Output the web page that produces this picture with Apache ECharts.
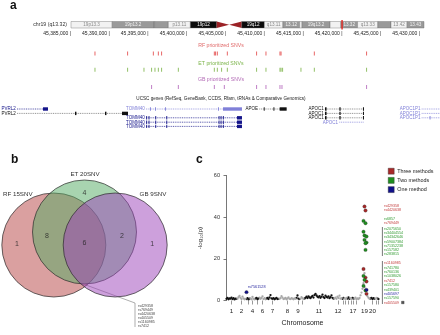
<!DOCTYPE html>
<html>
<head>
<meta charset="utf-8">
<script src="https://cdn.jsdelivr.net/npm/echarts@6/dist/echarts.min.js"></script>
<style>
html, body { margin: 0; padding: 0; background: #fff; }
#chart { width: 440px; height: 335px; }
</style>
</head>
<body>
<div id="chart"></div>
<script>
const FONT = '"Liberation Sans", Arial, sans-serif'

// ---------- panel a : chr19 ideogram (hg19 bands, Mb) ----------
const bandStart = [0, 6.9, 13.9, 14.0, 16.3, 20.0, 24.4, 26.5, 28.6, 32.4, 35.5, 38.3, 38.7, 43.4, 45.2, 48.0, 51.4, 53.6, 56.3]
const bandEnd = [6.9, 13.9, 14.0, 16.3, 20.0, 24.4, 26.5, 28.6, 32.4, 35.5, 38.3, 38.7, 43.4, 45.2, 48.0, 51.4, 53.6, 56.3, 59.13]
const bandStain = ['gneg', 'gpos25', 'gneg', 'gpos25', 'gneg', 'gvar', 'acenL', 'acenR', 'gvar', 'gneg', 'gpos25', 'gneg', 'gpos25', 'gneg', 'gpos25', 'gneg', 'gpos25', 'gneg', 'gpos25']
const bandLabel = ['19p13.3', '19p13.2', '', '', 'p13.11', '19p12', '', '', '19q12', 'q13.11', '13.12', '', '19q13.2', '', '13.32', 'q13.33', '', '13.42', '13.43']
const viewMb = [45.404]

// genome browser window and coordinate ticks
const viewStart = 45375850
const viewEnd = 45432570
const coordTicks = [45385000, 45390000, 45395000, 45400000, 45405000, 45410000, 45415000, 45420000, 45425000, 45430000]

// prioritized SNV positions (bp)
const rfSnv = [45388094, 45392309, 45395609, 45396253, 45396691, 45403471, 45403650, 45403858, 45405147, 45408937, 45410136, 45411941, 45412079, 45416361, 45423116]
const etSnv = [45388094, 45392309, 45394410, 45395402, 45395828, 45396253, 45396691, 45398831, 45403471, 45403858, 45404425, 45405147, 45408937, 45410136, 45411941, 45412079, 45412289, 45414647, 45416361, 45423116]
const gbSnv = [45395402, 45398831, 45403471, 45404760, 45408937, 45410136, 45411941, 45412200, 45423116]

// UCSC gene models
const geneName = ['PVRL2', 'PVRL2', 'TOMM40', 'TOMM40', 'TOMM40', 'TOMM40', 'APOE', 'APOC1', 'APOC1', 'APOC1', 'APOC1', 'APOC1P1', 'APOC1P1', 'APOC1P1']
const geneStart = [45378040, 45378040, 45394668, 45394668, 45394668, 45394668, 45409270, 45417741, 45417741, 45417741, 45419584, 45430205, 45430205, 45430205]
const geneEnd = [45382035, 45392347, 45407042, 45407042, 45407042, 45407042, 45412800, 45422768, 45422768, 45422768, 45422768, 45432570, 45432570, 45432570]
const geneRow = [0, 1, 0, 2, 3, 4, 0, 0, 1, 2, 3, 0, 1, 2]
const geneTone = ['dark', 'black', 'light', 'dark', 'dark', 'dark', 'black', 'black', 'black', 'black', 'light', 'light', 'light', 'light']
const tomExons = [[45394700, 45394800], [45395000, 45395100], [45395870, 45395970], [45397290, 45397390], [45404030, 45404130], [45404290, 45404390], [45404580, 45404680], [45406400, 45407042]]
const apocExons = [[45417741, 45417950], [45419600, 45419760], [45422640, 45422768]]
const geneExons = [
    [[45381390, 45382035]],
    [[45385516, 45385700], [45389383, 45389570], [45391574, 45392347]],
    [[45395180, 45395280], [45395830, 45395930], [45397120, 45397220], [45403950, 45404050], [45404593, 45407042]],
    tomExons, tomExons, tomExons,
    [[45409850, 45409950], [45411100, 45411220], [45411900, 45412800]],
    apocExons, apocExons, apocExons,
    [],
    [], [], [[45431230, 45431330]]
]

// ---------- panel b : Venn ----------
const vennName = ['RF 15SNV', 'ET 20SNV', 'GB 9SNV']
const vennX = [-0.59, 0, 0.59]
const vennY = [0, 0.25, 0]
const regionCount = [1, 8, 4, 6, 2, 1]
const regionX = [-1.3, -0.72, 0, 0, 0.72, 1.3]
const regionY = [0.02, 0.17, 1.0, 0.04, 0.17, 0.02]
const sharedSnv = ['rs429358', 'rs769449', 'rs4420638', 'rs405509', 'rs1160985', 'rs7412']

// ---------- panel c : Manhattan ----------
const chromName = ['1', '2', '3', '4', '5', '6', '7', '8', '9', '10', '11', '12', '13', '14', '15', '16', '17', '18', '19', '20', '21', '22']
const chromShown = ['1', '2', '4', '6', '7', '8', '9', '11', '12', '17', '19', '20']
const chromShade = [0, 1, 0, 1, 0, 1, 0, 1, 0, 1, 0, 1, 0, 1, 0, 1, 0, 1, 1, 0, 1, 0]
const chromP = [
    [0.8, 1.2, 0.6, 1.0, 0.9, 1.4, 0.7, 1.1, 0.5, 0.9, 0.8],
    [0.9, 1.6, 2.2, 1.3, 0.7, 1.9, 1.0, 0.6, 0.8],
    [0.7, 1.1, 0.5, 0.9],
    [1.0, 0.6, 1.7, 0.8, 0.5],
    [0.9, 1.3, 0.6, 1.0],
    [1.4, 0.8, 1.2, 2.0, 0.7, 1.1, 0.6],
    [0.9, 1.2, 0.7, 1.5, 2.6, 1.0, 0.8, 1.1, 0.6, 0.9, 1.3, 0.7, 0.8],
    [0.8, 1.1, 2.1, 1.4, 0.7, 0.9, 1.2, 0.6, 1.0, 1.5, 0.8, 0.7, 1.1, 0.9, 0.6, 1.0, 0.8],
    [1.2, 2.4, 0.9, 0.7],
    [0.8, 1.6, 1.1, 0.7],
    [0.9, 1.3, 1.8, 1.2, 2.0, 1.5, 1.1, 1.7, 2.2, 1.4, 2.6, 3.2, 2.4, 1.8, 1.5, 2.1, 1.3, 1.9, 2.8, 1.6, 1.2, 2.3, 1.7, 1.4, 2.0, 1.1, 1.6, 2.5, 1.3, 0.9],
    [1.0, 1.4, 0.8, 1.8, 1.2, 2.3, 0.9, 1.1],
    [0.8, 1.2],
    [1.0, 0.7, 1.3],
    [0.9, 1.5, 0.8],
    [1.1, 0.7],
    [1.2, 0.9],
    [0.8, 1.4, 0.6, 1.0, 0.7],
    [1.2, 2.5, 3.8, 5.6, 7.2, 6.4, 4.8, 3.1, 2.0, 1.3, 0.8],
    [0.9, 1.3, 0.7, 1.1, 0.8],
    [0.8, 1.2],
    [1.0, 0.7]
]
const extraGrey = [[138, 13.1], [137, 8.3]]
// prioritized SNVs: SNP index, -log10(p), number of methods
const hitIdx = [138, 139, 137, 139, 137, 138, 140, 138, 140, 139, 139, 137, 137, 139, 138, 140, 137, 140, 139, 140, 20]
const hitP = [45.1, 43.2, 38.2, 37.1, 33.0, 31.2, 30.7, 29.1, 27.8, 27.5, 24.3, 15.1, 11.8, 11.0, 9.9, 9.1, 7.0, 5.1, 4.8, 3.2, 4.0]
const hitGroup = [3, 3, 2, 2, 2, 2, 2, 2, 2, 2, 2, 3, 2, 3, 2, 3, 2, 1, 2, 3, 1]
const groupName = {3: 'Three methods', 2: 'Two methods', 1: 'One method'}
const groupColor = {3: '#a82828', 2: '#1f8f1f', 1: '#10108a'}
const labelColor = {3: '#c23b3b', 2: '#2f9a2f', 1: '#2a2aa0'}

// right-hand SNP name column: [name, methods, block]
const snpLabel = ['rs429358', 'rs4420638', 'rs6857', 'rs769449',
    'rs2075650', 'rs34404554', 'rs34342646', 'rs59007384', 'rs71352238', 'rs157582', 'rs283815',
    'rs1160985', 'rs741780', 'rs760136', 'rs1038026', 'rs7412', 'rs157580', 'rs439401', 'rs405697', 'rs157590', 'rs405509']
const snpLabelGroup = [3, 3, 2, 3, 2, 2, 2, 2, 2, 2, 2, 3, 2, 2, 2, 3, 2, 2, 1, 2, 3]
const snpLabelBlock = [0, 0, 1, 1, 2, 2, 2, 2, 2, 2, 2, 3, 3, 3, 3, 3, 3, 3, 3, 3, 3]

// ---------- build ----------
const fmtBp = v => String(v).replace(/\B(?=(\d{3})+(?!\d))/g, ',')

const stainFill = {gneg: '#f2f2f2', gpos25: '#9a9a9a', gvar: '#0b0b0b'}
const stainText = {gneg: '#8a8a8a', gpos25: '#f2f2f2', gvar: '#f2f2f2'}
function renderBand(params, api) {
    const i = api.value(2)
    const a = api.coord([api.value(0), 1])
    const b = api.coord([api.value(1), 0])
    const st = bandStain[i]
    if (st === 'acenL' || st === 'acenR') {
        const base = st === 'acenL' ? a[0] : b[0]
        const tip = st === 'acenL' ? b[0] : a[0]
        return {type: 'polygon', shape: {points: [[base, a[1]], [base, b[1]], [tip, (a[1] + b[1]) / 2]]}, style: {fill: '#9b2226'}}
    }
    return {
        type: 'group', children: [
            {type: 'rect', shape: {x: a[0], y: a[1], width: b[0] - a[0], height: b[1] - a[1]}, style: {fill: stainFill[st], stroke: '#6a6a6a', lineWidth: 0.4}},
            {type: 'text', style: {text: bandLabel[i], x: (a[0] + b[0]) / 2, y: (a[1] + b[1]) / 2 + 0.3, align: 'center', verticalAlign: 'middle', fontSize: 4.6, fontFamily: FONT, fill: stainText[st]}}
        ]
    }
}

const geneRowY = [69, 73.4, 77.8, 82.2, 86.4]
const toneColor = {dark: '#14148a', light: '#8080d8', black: '#111111'}
function renderGene(params, api) {
    const i = api.value(2)
    const ry = geneRowY[geneRow[i]]
    const s = api.coord([geneStart[i], ry])
    const e = api.coord([geneEnd[i], ry])
    const col = toneColor[geneTone[i]]
    const children = [{
        type: 'line', shape: {x1: s[0], y1: s[1], x2: e[0], y2: e[1]},
        style: {stroke: geneTone[i] === 'black' ? '#666' : col, lineWidth: 0.7, lineDash: [1, 0.8]}
    }]
    geneExons[i].forEach(ex => {
        const x0 = api.coord([ex[0], ry])[0]
        const x1 = api.coord([ex[1], ry])[0]
        children.push({type: 'rect', shape: {x: x0, y: s[1] - 1.7, width: Math.max(x1 - x0, 0.9), height: 3.4}, style: {fill: col}})
    })
    children.push({type: 'text', style: {text: geneName[i], x: s[0] - 1.2, y: s[1] + 0.2, align: 'right', verticalAlign: 'middle', fontSize: 4.5, fontFamily: FONT, fill: col}})
    return {type: 'group', children}
}

const bgDark = [], bgLight = [], chromCenter = []
let idx = 0
chromP.forEach((vals, c) => {
    chromCenter.push(idx + (vals.length - 1) / 2)
    vals.forEach(p => {
        (chromShade[c] ? bgLight : bgDark).push([idx, p])
        idx++
    })
})
const nSnp = idx
const shownCenter = chromCenter.filter((v, c) => chromShown.includes(chromName[c]))
const chromOf = v => chromName[chromCenter.findIndex(cv => Math.abs(cv - v) < 0.01)]

const hitSeries = [3, 2, 1].map(g => ({
    name: groupName[g], type: 'scatter', xAxisIndex: 3, yAxisIndex: 3, z: 5,
    symbolSize: 3.4,
    itemStyle: {color: groupColor[g], borderColor: '#222', borderWidth: 0.3, opacity: 1},
    data: hitIdx.map((x, k) => hitGroup[k] === g ? [x, hitP[k]] : null).filter(d => d),
    label: g === 1 ? {
        show: true, formatter: p => p.value[0] === 20 ? 'rs7561528' : '',
        position: [3, -5], fontSize: 3.8, fontFamily: FONT, color: labelColor[1]
    } : {show: false}
}))

const trackText = (t, y, color, size) => ({
    type: 'text', x: 221, y: y,
    style: {text: t, align: 'center', verticalAlign: 'middle', fontSize: size || 5.2, fontFamily: FONT, fill: color}
})

const graphics = [
    {type: 'text', x: 10, y: 0, style: {text: 'a', fontSize: 12, fontWeight: 'bold', fontFamily: FONT, fill: '#111'}},
    {type: 'text', x: 11, y: 154, style: {text: 'b', fontSize: 12, fontWeight: 'bold', fontFamily: FONT, fill: '#111'}},
    {type: 'text', x: 196, y: 154, style: {text: 'c', fontSize: 12, fontWeight: 'bold', fontFamily: FONT, fill: '#111'}},
    {type: 'text', x: 67, y: 24.6, style: {text: 'chr19 (q13.32)', align: 'right', verticalAlign: 'middle', fontSize: 5.2, fontFamily: FONT, fill: '#333'}},
    trackText('RF prioritized SNVs', 45.5, '#e06a6a'),
    trackText('ET prioritized SNVs', 63.2, '#7ab348'),
    trackText('GB prioritized SNVs', 79.5, '#b36bb6'),
    trackText('UCSC genes (RefSeq, GeneBank, CCDS, Rfam, tRNAs & Comparative Genomics)', 98.3, '#222', 4.6),
    {type: 'text', x: 3, y: 194, style: {text: vennName[0], align: 'left', verticalAlign: 'middle', fontSize: 6.2, fontFamily: FONT, fill: '#333'}},
    {type: 'text', x: 85, y: 174, style: {text: vennName[1], align: 'center', verticalAlign: 'middle', fontSize: 6.2, fontFamily: FONT, fill: '#333'}},
    {type: 'text', x: 153, y: 194, style: {text: vennName[2], align: 'center', verticalAlign: 'middle', fontSize: 6.2, fontFamily: FONT, fill: '#333'}},
    {type: 'polyline', shape: {points: [[86, 285], [135, 303], [135, 327]]}, style: {stroke: '#777', lineWidth: 0.6, fill: null}},
    {type: 'line', shape: {x1: 382.4, y1: 227, x2: 382.4, y2: 256}, style: {stroke: '#555', lineWidth: 0.8}},
    {type: 'line', shape: {x1: 382.4, y1: 261, x2: 382.4, y2: 304}, style: {stroke: '#555', lineWidth: 0.8}},
    {type: 'rect', shape: {x: 401.5, y: 301.2, width: 2.6, height: 2.6}, style: {fill: '#555', stroke: '#222', lineWidth: 0.3}}
]
sharedSnv.forEach((t, k) => graphics.push({
    type: 'text', x: 138, y: 306 + k * 3.9,
    style: {text: t, align: 'left', verticalAlign: 'middle', fontSize: 3.6, fontFamily: FONT, fill: '#444'}
}))
const blockTop = [206, 218.6, 229, 263.4]
const blockGap = [4.3, 4.3, 4.2, 4.35]
const blockCount = [0, 0, 0, 0]
snpLabel.forEach((t, k) => {
    const b = snpLabelBlock[k]
    graphics.push({
        type: 'text', x: 384, y: blockTop[b] + blockCount[b] * blockGap[b],
        style: {text: t, align: 'left', verticalAlign: 'middle', fontSize: 3.6, fontFamily: FONT, fill: labelColor[snpLabelGroup[k]]}
    })
    blockCount[b]++
})

const hidden = {show: false}
const option = {
    animation: false,
    backgroundColor: '#fff',
    textStyle: {fontFamily: FONT},
    graphic: graphics,
    legend: {
        data: ['Three methods', 'Two methods', 'One method'],
        orient: 'vertical', left: 383, top: 163,
        icon: 'rect', itemWidth: 6, itemHeight: 6, itemGap: 2.8,
        itemStyle: {borderColor: '#333', borderWidth: 0.4},
        textStyle: {fontSize: 5.4, color: '#222', fontFamily: FONT, padding: [0, 0, 0, -2]},
        selectedMode: false
    },
    grid: [
        {left: 71, width: 353, top: 21.5, height: 6.5, outerBoundsMode: 'none'},
        {left: 0, width: 440, top: 40, height: 90, outerBoundsMode: 'none'},
        {left: 0, width: 169, top: 180, height: 117, outerBoundsMode: 'none'},
        {left: 226, width: 153, top: 175.5, height: 125, outerBoundsMode: 'none'}
    ],
    xAxis: [
        {gridIndex: 0, type: 'value', min: 0, max: 59.13, show: false},
        {
            gridIndex: 1, type: 'value', min: viewStart, max: viewEnd, position: 'top',
            axisLine: hidden, axisTick: hidden, splitLine: hidden,
            axisLabel: {
                customValues: coordTicks, formatter: v => fmtBp(v) + ' |', align: 'right',
                margin: 3.5, fontSize: 5, color: '#222', fontFamily: FONT, showMinLabel: true, showMaxLabel: true
            }
        },
        {gridIndex: 2, type: 'value', min: -1.625, max: 1.625, show: false},
        {
            gridIndex: 3, type: 'value', min: -0.5, max: nSnp - 0.5, offset: 2,
            axisLine: hidden, splitLine: hidden,
            axisTick: {show: true, customValues: chromCenter, length: 4, lineStyle: {color: '#555', width: 0.6}},
            axisLabel: {show: true, customValues: shownCenter, formatter: chromOf, margin: 6, fontSize: 6.2, color: '#222', fontFamily: FONT},
            name: 'Chromosome', nameLocation: 'middle', nameGap: 17,
            nameTextStyle: {fontSize: 7, color: '#222', fontFamily: FONT}
        }
    ],
    yAxis: [
        {gridIndex: 0, type: 'value', min: 0, max: 1, show: false},
        {gridIndex: 1, type: 'value', min: 0, max: 90, inverse: true, show: false},
        {gridIndex: 2, type: 'value', min: -1, max: 1.25, show: false},
        {
            gridIndex: 3, type: 'value', min: 0, max: 60, interval: 20, offset: 3,
            axisLine: {show: true, lineStyle: {color: '#555', width: 0.8}},
            axisTick: {show: true, length: 3, lineStyle: {color: '#555', width: 0.8}},
            axisLabel: {fontSize: 5.6, color: '#333', margin: 3, fontFamily: FONT},
            splitLine: hidden,
            name: '-log{sub|10}(p)', nameLocation: 'middle', nameGap: 19, nameRotate: 90,
            nameTextStyle: {
                fontSize: 6.2, color: '#333', fontFamily: FONT,
                rich: {sub: {fontSize: 4, fontFamily: FONT, color: '#333', padding: [3, 0, 0, 0]}}
            }
        }
    ],
    series: [
        // ideogram
        {type: 'custom', xAxisIndex: 0, yAxisIndex: 0, renderItem: renderBand, silent: true,
            data: bandStart.map((s, i) => [s, bandEnd[i], i])},
        {type: 'scatter', xAxisIndex: 0, yAxisIndex: 0, symbol: 'rect', symbolSize: [1.4, 9.5], silent: true,
            itemStyle: {color: '#e3261f', opacity: 1}, data: viewMb.map(v => [v, 0.5])},
        // SNV tracks
        {type: 'scatter', xAxisIndex: 1, yAxisIndex: 1, symbol: 'rect', symbolSize: [0.8, 4], silent: true,
            itemStyle: {color: '#e23f3f', opacity: 1}, data: rfSnv.map(v => [v, 13.5])},
        {type: 'scatter', xAxisIndex: 1, yAxisIndex: 1, symbol: 'rect', symbolSize: [0.8, 4], silent: true,
            itemStyle: {color: '#77b041', opacity: 1}, data: etSnv.map(v => [v, 29.7])},
        {type: 'scatter', xAxisIndex: 1, yAxisIndex: 1, symbol: 'rect', symbolSize: [0.8, 4], silent: true,
            itemStyle: {color: '#b060b8', opacity: 1}, data: gbSnv.map(v => [v, 47])},
        // genes
        {type: 'custom', xAxisIndex: 1, yAxisIndex: 1, renderItem: renderGene, silent: true, clip: true,
            data: geneName.map((n, i) => [geneStart[i], geneEnd[i], i])},
        // Venn circles
        {type: 'scatter', xAxisIndex: 2, yAxisIndex: 2, symbolSize: 104, silent: true,
            itemStyle: {borderColor: '#2b2b2b', borderWidth: 0.7, opacity: 1},
            data: vennX.map((x, i) => ({
                value: [x, vennY[i]],
                itemStyle: {color: ['rgba(181,65,65,0.5)', 'rgba(81,169,97,0.5)', 'rgba(155,65,185,0.5)'][i]}
            }))},
        {type: 'scatter', xAxisIndex: 2, yAxisIndex: 2, symbolSize: 0, silent: true, z: 4,
            label: {show: true, position: 'inside', formatter: p => p.value[2], fontSize: 7, color: '#222', fontFamily: FONT},
            data: regionCount.map((c, i) => [regionX[i], regionY[i], c])},
        // Manhattan background
        {type: 'scatter', xAxisIndex: 3, yAxisIndex: 3, symbolSize: 2.3, silent: true,
            itemStyle: {color: '#111', opacity: 1}, data: bgDark},
        {type: 'scatter', xAxisIndex: 3, yAxisIndex: 3, symbolSize: 2.3, silent: true,
            itemStyle: {color: '#a8a8a8', opacity: 1}, data: bgLight.concat(extraGrey)},
        ...hitSeries
    ]
}

const chart = echarts.init(document.getElementById('chart'))
chart.setOption(option)
window.addEventListener('resize', () => chart.resize())
</script>
</body>
</html>
